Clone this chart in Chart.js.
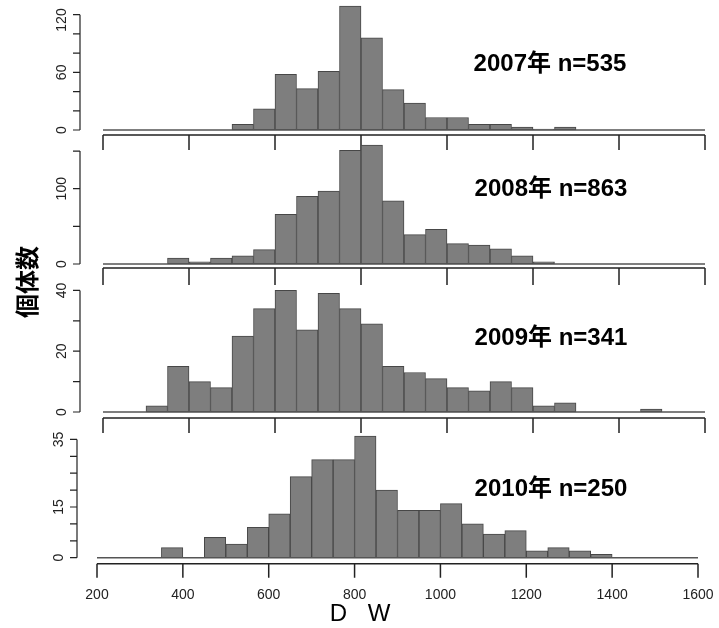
<!DOCTYPE html>
<html>
<head>
<meta charset="utf-8">
<script src="https://cdn.jsdelivr.net/npm/chart.js@4"></script>
<style>
  body { margin: 0; background: #fff; }
  #wrap { position: relative; width: 719px; height: 628px; overflow: hidden; }
  canvas { position: absolute; left: 0; top: 0; }
  .note { position: absolute; font: bold 24px "Liberation Sans", "Noto Sans CJK JP", sans-serif; color: #000;
          transform: translate(-50%, -50%); white-space: nowrap; line-height: 1; }
  #ytitle { position: absolute; left: 26px; top: 282px; font: bold 24px "Noto Sans CJK JP", sans-serif;
            transform: translate(-50%, -50%) rotate(-90deg); white-space: nowrap; line-height: 1; }
  #xtitle { position: absolute; left: 360px; top: 613px; font: 24px "Liberation Sans", sans-serif;
            transform: translate(-50%, -50%); word-spacing: 14px; white-space: nowrap; line-height: 1; }
</style>
</head>
<body>
<div id="wrap">
  <canvas id="c2007" width="719" height="628"></canvas>
  <canvas id="c2008" width="719" height="628"></canvas>
  <canvas id="c2009" width="719" height="628"></canvas>
  <canvas id="c2010" width="719" height="628"></canvas>
  <div class="note" style="left:550px;top:63px">2007年 n=535</div>
  <div class="note" style="left:551px;top:188px">2008年 n=863</div>
  <div class="note" style="left:551px;top:337px">2009年 n=341</div>
  <div class="note" style="left:551px;top:488px">2010年 n=250</div>
  <div id="ytitle">個体数</div>
  <div id="xtitle">D W</div>
</div>
<script>
// bin starts: 200, 250, ... 1550 (width 50)
var binStarts = [];
for (var b = 200; b < 1600; b += 50) binStarts.push(b);

var counts2007 = [0, 0, 0, 0, 0, 0, 6, 22, 58, 43, 61, 129, 96, 42, 28, 13, 13, 6, 6, 3, 1, 3, 0, 0, 0, 0, 0, 0];
var counts2008 = [0, 0, 0, 8, 3, 8, 11, 19, 66, 90, 97, 151, 158, 84, 39, 46, 27, 25, 20, 11, 3, 0, 0, 0, 0, 0, 0, 0];
var counts2009 = [0, 0, 2, 15, 10, 8, 25, 34, 40, 27, 39, 34, 29, 15, 13, 11, 8, 7, 10, 8, 2, 3, 0, 0, 0, 1, 0, 0];
var counts2010 = [0, 0, 0, 3, 0, 6, 4, 9, 13, 24, 29, 29, 36, 20, 14, 14, 16, 10, 7, 8, 2, 3, 2, 1, 0, 0, 0, 0];

var xTicks = [200, 400, 600, 800, 1000, 1200, 1400, 1600];
var yLabels2007 = [0, 60, 120];
var yLabels2008 = [0, 100];
var yLabels2009 = [0, 20, 40];
var yLabels2010 = [0, 15, 35];

// R style axes, drawn from the chart's own scales
var rAxes = {
  id: 'rAxes',
  afterDraw: function (chart) {
    var o = chart.options.plugins.rAxes;
    var xs = chart.scales.x, ys = chart.scales.y, ctx = chart.ctx;
    var xa = xs.getPixelForValue(200), xb = xs.getPixelForValue(1600);
    var y0 = ys.getPixelForValue(0);
    ctx.save();
    // zero-height bins baseline
    ctx.strokeStyle = '#555';
    ctx.lineWidth = 1.5;
    ctx.beginPath();
    ctx.moveTo(xa, y0); ctx.lineTo(xb, y0);
    ctx.stroke();
    // x axis
    var ax = y0 + o.gap;
    ctx.strokeStyle = '#222';
    ctx.lineWidth = 1.5;
    ctx.beginPath();
    ctx.moveTo(xa, ax); ctx.lineTo(xb, ax);
    xTicks.forEach(function (t) {
      var p = xs.getPixelForValue(t);
      ctx.moveTo(p, ax); ctx.lineTo(p, ax + o.tickLen);
    });
    ctx.stroke();
    ctx.fillStyle = '#222';
    ctx.font = '14px "Liberation Sans", sans-serif';
    ctx.textAlign = 'center';
    ctx.textBaseline = 'middle';
    if (o.showX) {
      xTicks.forEach(function (t) {
        ctx.fillText(String(t), xs.getPixelForValue(t), 595);
      });
    }
    // y axis
    var yx = xa - o.yOff;
    var yTop = ys.getPixelForValue(o.yMax);
    ctx.lineWidth = 1.2;
    ctx.beginPath();
    ctx.moveTo(yx, y0); ctx.lineTo(yx, yTop);
    for (var v = 0; v <= o.yMax; v += o.yStep) {
      var py = ys.getPixelForValue(v);
      ctx.moveTo(yx, py); ctx.lineTo(yx - 7, py);
    }
    ctx.stroke();
    o.yLabels.forEach(function (v) {
      ctx.save();
      ctx.translate(yx - 18, Math.max(ys.getPixelForValue(v), 20));
      ctx.rotate(-Math.PI / 2);
      ctx.fillText(String(v), 0, 0);
      ctx.restore();
    });
    ctx.restore();
  }
};

function makePanel(id, counts, yMax, yStep, yLabels, g) {
  var top = g.y0 - yMax * g.ppu;
  new Chart(document.getElementById(id), {
    type: 'bar',
    data: {
      datasets: [{
        data: binStarts.map(function (s, i) { return { x: s + 25, y: counts[i] }; }),
        backgroundColor: '#7e7e7e',
        borderColor: '#474747',
        borderWidth: 1,
        borderSkipped: false,
        barPercentage: 1,
        categoryPercentage: 1,
        clip: false
      }]
    },
    options: {
      responsive: false,
      animation: false,
      events: [],
      layout: { padding: { left: g.xa, right: 719 - g.xb, top: top, bottom: 628 - g.y0 } },
      plugins: {
        legend: { display: false },
        tooltip: { enabled: false },
        rAxes: { yMax: yMax, yStep: yStep, yLabels: yLabels, gap: g.gap, tickLen: g.tickLen, yOff: g.yOff, showX: g.showX }
      },
      scales: {
        x: { type: 'linear', min: 200, max: 1600, offset: false, display: false },
        y: { min: 0, max: yMax, display: false }
      }
    },
    plugins: [rAxes]
  });
}

makePanel('c2007', counts2007, 120, 20, yLabels2007, { xa: 103, xb: 705, y0: 130, ppu: 0.961, gap: 5, tickLen: 15, yOff: 23, showX: false });
makePanel('c2008', counts2008, 150, 50, yLabels2008, { xa: 103, xb: 705, y0: 264, ppu: 0.753, gap: 4, tickLen: 17, yOff: 23, showX: false });
makePanel('c2009', counts2009, 40, 10, yLabels2009, { xa: 103, xb: 705, y0: 412, ppu: 3.04, gap: 6, tickLen: 15, yOff: 23, showX: false });
makePanel('c2010', counts2010, 35, 5, yLabels2010, { xa: 97, xb: 698, y0: 557.7, ppu: 3.38, gap: 6, tickLen: 14, yOff: 20, showX: true });
</script>
</body>
</html>
